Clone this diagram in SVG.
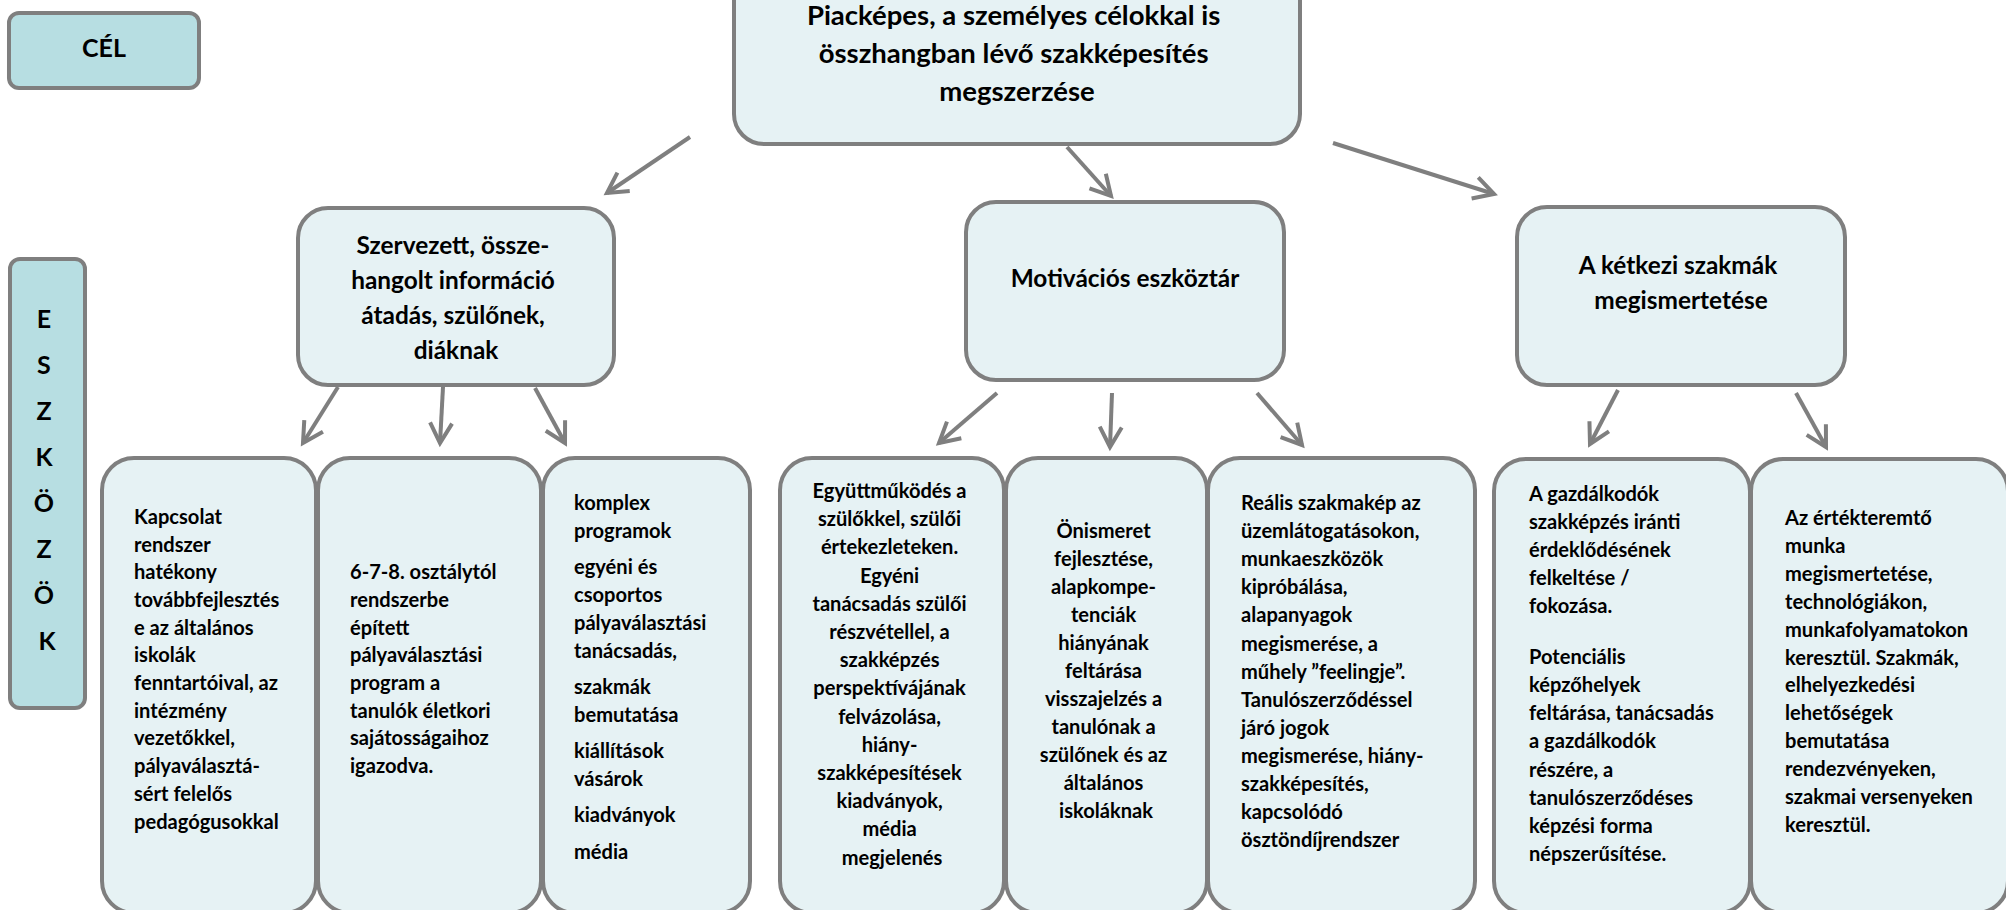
<svg xmlns="http://www.w3.org/2000/svg" width="2006" height="910" viewBox="0 0 2006 910">
<defs>
<style>
.box{fill:#e6f2f4;stroke:#7f7f7f;stroke-width:4}
.lbl{fill:#b7dee2;stroke:#7f7f7f;stroke-width:4}
text{font-family:Lato,"Open Sans","Liberation Sans",sans-serif;font-weight:700;fill:#000}
.t1{font-size:27.5px;text-anchor:middle}
.t2{font-size:24.4px;text-anchor:middle}
.t3{font-size:20.1px}
.tl{font-size:25px;text-anchor:middle}
.c{text-anchor:middle}
#connectors line{stroke:#7f7f7f;stroke-width:4;fill:none;marker-end:url(#ah)}
</style>
<marker id="ah" markerUnits="userSpaceOnUse" markerWidth="40" markerHeight="40" viewBox="-30 -20 40 40" refX="0" refY="0" orient="auto">
<path d="M-20,-11 L0,0 L-20,11" fill="none" stroke="#7f7f7f" stroke-width="4" stroke-linejoin="miter"/>
</marker>
</defs>
<rect width="2006" height="910" fill="#ffffff"/>

<g id="connectors">
<line x1="690" y1="137" x2="607" y2="193"/>
<line x1="1067" y1="147" x2="1111" y2="196"/>
<line x1="1333" y1="143" x2="1494" y2="194"/>
<line x1="338" y1="387" x2="303" y2="443"/>
<line x1="443" y1="387" x2="440" y2="443"/>
<line x1="535" y1="388" x2="565" y2="443"/>
<line x1="997" y1="393" x2="939" y2="443"/>
<line x1="1112" y1="393" x2="1110" y2="447"/>
<line x1="1257" y1="393" x2="1302" y2="445"/>
<line x1="1618" y1="390" x2="1590" y2="444"/>
<line x1="1796" y1="393" x2="1826" y2="447"/>
</g>

<g id="cel">
<rect class="lbl" x="9" y="13" width="190" height="75" rx="10"/>
<text class="tl" x="104" y="57">CÉL</text>
</g>

<g id="eszkozok">
<rect class="lbl" x="10" y="259" width="75" height="449" rx="10"/>
<text class="tl">
<tspan x="47" y="328">E</tspan>
<tspan x="47" y="374">S</tspan>
<tspan x="47" y="420">Z</tspan>
<tspan x="47" y="466">K</tspan>
<tspan x="47" y="512">Ö</tspan>
<tspan x="47" y="558">Z</tspan>
<tspan x="47" y="604">Ö</tspan>
<tspan x="47" y="650">K</tspan>
</text>
</g>

<g id="goal">
<rect class="box" x="734" y="-40" width="566" height="184" rx="30"/>
<text class="t1">
<tspan x="1017" y="25">Piacképes, a személyes célokkal is</tspan>
<tspan x="1017" y="63">összhangban lévő szakképesítés</tspan>
<tspan x="1017" y="101">megszerzése</tspan>
</text>
</g>

<g id="info">
<rect class="box" x="298" y="208" width="316" height="177" rx="30"/>
<text class="t2">
<tspan x="456" y="254">Szervezett, össze-</tspan>
<tspan x="456" y="289">hangolt információ</tspan>
<tspan x="456" y="324">átadás, szülőnek,</tspan>
<tspan x="456" y="359">diáknak</tspan>
</text>
</g>

<g id="motiv">
<rect class="box" x="966" y="202" width="318" height="178" rx="30"/>
<text class="t2" x="1125" y="287">Motivációs eszköztár</text>
</g>

<g id="ketkezi">
<rect class="box" x="1517" y="207" width="328" height="178" rx="30"/>
<text class="t2">
<tspan x="1681" y="274">A kétkezi szakmák</tspan>
<tspan x="1681" y="309">megismertetése</tspan>
</text>
</g>

<g id="b1">
<rect class="box" x="102" y="458" width="214" height="455" rx="32"/>
<text class="t3">
<tspan x="134" y="524">Kapcsolat</tspan>
<tspan x="134" y="552">rendszer</tspan>
<tspan x="134" y="579">hatékony</tspan>
<tspan x="134" y="607">továbbfejlesztés</tspan>
<tspan x="134" y="635">e az általános</tspan>
<tspan x="134" y="662">iskolák</tspan>
<tspan x="134" y="690">fenntartóival, az</tspan>
<tspan x="134" y="718">intézmény</tspan>
<tspan x="134" y="745">vezetőkkel,</tspan>
<tspan x="134" y="773">pályaválasztá-</tspan>
<tspan x="134" y="801">sért felelős</tspan>
<tspan x="134" y="829">pedagógusokkal</tspan>
</text>
</g>

<g id="b2">
<rect class="box" x="318" y="458" width="223" height="455" rx="32"/>
<text class="t3">
<tspan x="350" y="579">6-7-8. osztálytól</tspan>
<tspan x="350" y="607">rendszerbe</tspan>
<tspan x="350" y="635">épített</tspan>
<tspan x="350" y="662">pályaválasztási</tspan>
<tspan x="350" y="690">program a</tspan>
<tspan x="350" y="718">tanulók életkori</tspan>
<tspan x="350" y="745">sajátosságaihoz</tspan>
<tspan x="350" y="773">igazodva.</tspan>
</text>
</g>

<g id="b3">
<rect class="box" x="543" y="458" width="207" height="455" rx="32"/>
<text class="t3">
<tspan x="574" y="510">komplex</tspan>
<tspan x="574" y="538">programok</tspan>
<tspan x="574" y="574">egyéni és</tspan>
<tspan x="574" y="602">csoportos</tspan>
<tspan x="574" y="630">pályaválasztási</tspan>
<tspan x="574" y="658">tanácsadás,</tspan>
<tspan x="574" y="694">szakmák</tspan>
<tspan x="574" y="722">bemutatása</tspan>
<tspan x="574" y="758">kiállítások</tspan>
<tspan x="574" y="786">vásárok</tspan>
<tspan x="574" y="822">kiadványok</tspan>
<tspan x="574" y="859">média</tspan>
</text>
</g>

<g id="b4">
<rect class="box" x="780" y="458" width="224" height="455" rx="32"/>
<text class="t3 c">
<tspan x="892" y="498">Együttműködés a</tspan>
<tspan x="892" y="526">szülőkkel, szülői</tspan>
<tspan x="892" y="554">értekezleteken.</tspan>
<tspan x="892" y="583">Egyéni</tspan>
<tspan x="892" y="611">tanácsadás szülői</tspan>
<tspan x="892" y="639">részvétellel, a</tspan>
<tspan x="892" y="667">szakképzés</tspan>
<tspan x="892" y="695">perspektívájának</tspan>
<tspan x="892" y="724">felvázolása,</tspan>
<tspan x="892" y="752">hiány-</tspan>
<tspan x="892" y="780">szakképesítések</tspan>
<tspan x="892" y="808">kiadványok,</tspan>
<tspan x="892" y="836">média</tspan>
<tspan x="892" y="865">megjelenés</tspan>
</text>
</g>

<g id="b5">
<rect class="box" x="1006" y="458" width="201" height="455" rx="32"/>
<text class="t3 c">
<tspan x="1106" y="538">Önismeret</tspan>
<tspan x="1106" y="566">fejlesztése,</tspan>
<tspan x="1106" y="594">alapkompe-</tspan>
<tspan x="1106" y="622">tenciák</tspan>
<tspan x="1106" y="650">hiányának</tspan>
<tspan x="1106" y="678">feltárása</tspan>
<tspan x="1106" y="706">visszajelzés a</tspan>
<tspan x="1106" y="734">tanulónak a</tspan>
<tspan x="1106" y="762">szülőnek és az</tspan>
<tspan x="1106" y="790">általános</tspan>
<tspan x="1106" y="818">iskoláknak</tspan>
</text>
</g>

<g id="b6">
<rect class="box" x="1208" y="458" width="267" height="455" rx="32"/>
<text class="t3">
<tspan x="1241" y="510">Reális szakmakép az</tspan>
<tspan x="1241" y="538">üzemlátogatásokon,</tspan>
<tspan x="1241" y="566">munkaeszközök</tspan>
<tspan x="1241" y="594">kipróbálása,</tspan>
<tspan x="1241" y="622">alapanyagok</tspan>
<tspan x="1241" y="651">megismerése, a</tspan>
<tspan x="1241" y="679">műhely ”feelingje”.</tspan>
<tspan x="1241" y="707">Tanulószerződéssel</tspan>
<tspan x="1241" y="735">járó jogok</tspan>
<tspan x="1241" y="763">megismerése, hiány-</tspan>
<tspan x="1241" y="791">szakképesítés,</tspan>
<tspan x="1241" y="819">kapcsolódó</tspan>
<tspan x="1241" y="847">ösztöndíjrendszer</tspan>
</text>
</g>

<g id="b7">
<rect class="box" x="1494" y="459" width="256" height="454" rx="32"/>
<text class="t3">
<tspan x="1529" y="501">A gazdálkodók</tspan>
<tspan x="1529" y="529">szakképzés iránti</tspan>
<tspan x="1529" y="557">érdeklődésének</tspan>
<tspan x="1529" y="585">felkeltése /</tspan>
<tspan x="1529" y="613">fokozása.</tspan>
<tspan x="1529" y="664">Potenciális</tspan>
<tspan x="1529" y="692">képzőhelyek</tspan>
<tspan x="1529" y="720">feltárása, tanácsadás</tspan>
<tspan x="1529" y="748">a gazdálkodók</tspan>
<tspan x="1529" y="777">részére, a</tspan>
<tspan x="1529" y="805">tanulószerződéses</tspan>
<tspan x="1529" y="833">képzési forma</tspan>
<tspan x="1529" y="861">népszerűsítése.</tspan>
</text>
</g>

<g id="b8">
<rect class="box" x="1751" y="459" width="257" height="454" rx="32"/>
<text class="t3">
<tspan x="1785" y="525">Az értékteremtő</tspan>
<tspan x="1785" y="553">munka</tspan>
<tspan x="1785" y="581">megismertetése,</tspan>
<tspan x="1785" y="609">technológiákon,</tspan>
<tspan x="1785" y="637">munkafolyamatokon</tspan>
<tspan x="1785" y="665">keresztül. Szakmák,</tspan>
<tspan x="1785" y="692">elhelyezkedési</tspan>
<tspan x="1785" y="720">lehetőségek</tspan>
<tspan x="1785" y="748">bemutatása</tspan>
<tspan x="1785" y="776">rendezvényeken,</tspan>
<tspan x="1785" y="804">szakmai versenyeken</tspan>
<tspan x="1785" y="832">keresztül.</tspan>
</text>
</g>
</svg>
